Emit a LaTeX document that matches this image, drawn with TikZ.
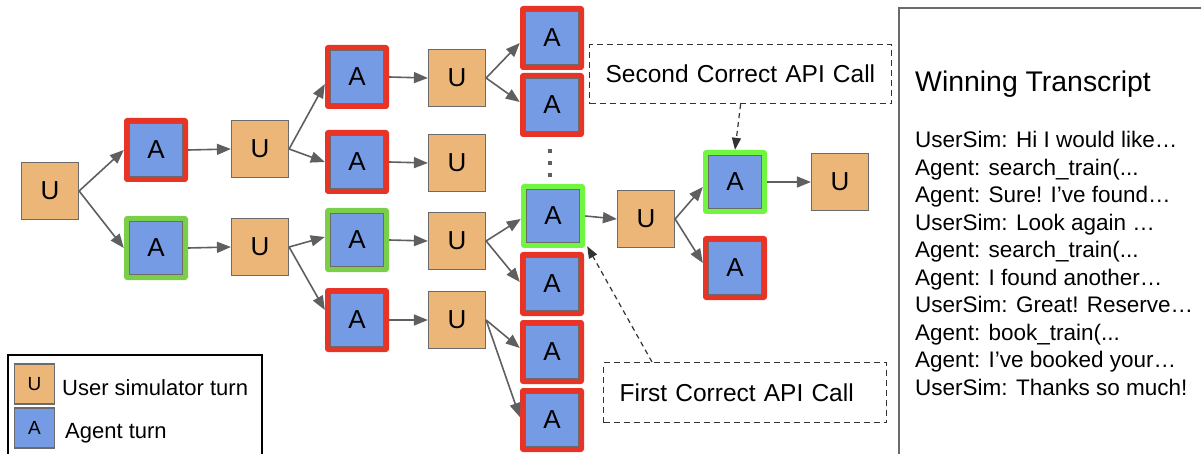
\documentclass[tikz,border=0pt]{standalone}
\usepackage{fontspec}
\setmainfont{Liberation Sans}
\usetikzlibrary{arrows.meta}
\definecolor{uorange}{RGB}{236,182,121}
\definecolor{ablue}{RGB}{117,155,228}
\definecolor{fred}{RGB}{232,52,38}
\definecolor{fgreenA}{RGB}{122,206,72}
\definecolor{fgreenB}{RGB}{112,246,64}
\definecolor{nodegray}{RGB}{107,107,107}
\definecolor{edgegray}{RGB}{95,95,95}
\definecolor{dashgray}{RGB}{51,51,51}
\begin{document}
\begin{tikzpicture}[x=1pt,y=-1pt,
  unode/.style={draw=nodegray, fill=uorange, line width=1.2pt, minimum size=57pt, inner sep=0pt, font=\fontsize{26}{26}\selectfont},
  anode/.style={fill=#1, rounded corners=3pt, minimum size=64pt, inner sep=0pt, font=\fontsize{26}{26}\selectfont,
    path picture={\draw[sharp corners, fill=ablue, draw=nodegray, line width=1.2pt]
      ([shift={(5.5pt,5.5pt)}]path picture bounding box.south west) rectangle
      ([shift={(-5.5pt,-5.5pt)}]path picture bounding box.north east);}},
  arr/.style={draw=edgegray, line width=1.6pt, -{Triangle[length=14pt,width=11pt]}},
  darr/.style={draw=dashgray, line width=1.2pt, dash pattern=on 5pt off 4pt, -{Triangle[length=12pt,width=9pt]}},
  callout/.style={draw=dashgray, line width=1.2pt, dash pattern=on 6pt off 4pt, inner xsep=16pt, inner ysep=0pt, align=left, font=\fontsize{24.5}{24.5}\selectfont},
  tline/.style={anchor=base west, inner sep=0pt, font=\fontsize{22.5}{22.5}\selectfont},
  legtext/.style={anchor=base west, inner sep=0pt, font=\fontsize{22}{22}\selectfont},
  legbox/.style={draw=nodegray, line width=1.2pt, minimum size=40pt, inner sep=0pt, font=\fontsize{19}{19}\selectfont}
]
\useasboundingbox (0,0) rectangle (1201,454);

% tree nodes
\node[unode] (U0) at (50,191) {U};
\node[anode=fred] (A1) at (156,150) {A};
\node[anode=fgreenA] (A2) at (156,248) {A};
\node[unode] (U1) at (260,149) {U};
\node[unode] (U2) at (260,247) {U};
\node[anode=fred] (A3a) at (357,77) {A};
\node[anode=fred] (A3b) at (357,162) {A};
\node[anode=fgreenA] (A3c) at (357,240) {A};
\node[anode=fred] (A3d) at (357,320) {A};
\node[unode] (U3a) at (457,78) {U};
\node[unode] (U3b) at (457,163) {U};
\node[unode] (U3c) at (457,241) {U};
\node[unode] (U3d) at (457,320) {U};
\node[anode=fred] (A4a) at (552,38) {A};
\node[anode=fred] (A4b) at (552,105) {A};
\node[anode=fgreenB] (A4c) at (553,216) {A};
\node[anode=fred] (A4d) at (552,284) {A};
\node[anode=fred] (A4e) at (552,352) {A};
\node[anode=fred] (A4f) at (552,420) {A};
\node[unode] (U5) at (646,219) {U};
\node[anode=fgreenB] (A6a) at (735,182) {A};
\node[anode=fred] (A6b) at (735,268) {A};
\node[unode] (U7) at (840,182) {U};

% vertical dots
\foreach \yy in {149,161,173} \fill[edgegray] (548,\yy) rectangle +(4,4);

% edges
\draw[arr] (U0.east) -- (A1.west);
\draw[arr] (U0.east) -- (A2.west);
\draw[arr] (A1.east) -- (U1.west);
\draw[arr] (A2.east) -- (U2.west);
\draw[arr] (U1.east) -- ([yshift=-7pt]A3a.west);
\draw[arr] (U1.east) -- (A3b.west);
\draw[arr] (U2.east) -- ([yshift=3pt]A3c.west);
\draw[arr] (U2.east) -- ([yshift=10pt]A3d.west);
\draw[arr] (A3a.east) -- (U3a.west);
\draw[arr] (A3b.east) -- (U3b.west);
\draw[arr] (A3c.east) -- (U3c.west);
\draw[arr] (A3d.east) -- (U3d.west);
\draw[arr] (U3a.east) -- ([yshift=-5pt]A4a.west);
\draw[arr] (U3a.east) -- ([yshift=3pt]A4b.west);
\draw[arr] (U3c.east) -- ([yshift=-3pt]A4c.west);
\draw[arr] (U3c.east) -- ([yshift=2pt]A4d.west);
\draw[arr] (U3d.east) -- ([yshift=4pt]A4e.west);
\draw[arr] (U3d.east) -- ([yshift=3pt]A4f.west);
\draw[arr] (A4c.east) -- (U5.west);
\draw[arr] (U5.east) -- ([yshift=-5pt]A6a.west);
\draw[arr] (U5.east) -- ([yshift=5pt]A6b.west);
\draw[arr] (A6a.east) -- (U7.west);

% callouts
\node[callout, text width=270pt, minimum height=59pt, anchor=north west] (sec) at (589,44) {Second Correct API Call};
\node[callout, text width=251pt, minimum height=60pt, anchor=north west] (fir) at (603,362) {First Correct API Call};
\draw[darr] (sec.south) -- (A6a.north);
\draw[darr] ([xshift=49pt]fir.north west) -- ([xshift=2pt,yshift=2pt]A4c.south east);

% transcript panel
\draw[line width=1.3pt, nodegray] (899,454) -- (899,8) -- (1201,8);
\node[anchor=base west, inner sep=0pt, font=\fontsize{28.4}{28.4}\selectfont] (title) at (915,92) {Winning Transcript};
\node[tline] (t1) at (915,148) {UserSim: Hi I would like…};
\node[tline] (t2) at (915,175.4) {Agent: search\_train(...};
\node[tline] (t3) at (915,202.9) {Agent: Sure! I’ve found…};
\node[tline] (t4) at (915,230.3) {UserSim: Look again …};
\node[tline] (t5) at (915,257.8) {Agent: search\_train(...};
\node[tline] (t6) at (915,285.2) {Agent: I found another…};
\node[tline] (t7) at (915,312.6) {UserSim: Great! Reserve…};
\node[tline] (t8) at (915,340.1) {Agent: book\_train(...};
\node[tline] (t9) at (915,367.5) {Agent: I’ve booked your…};
\node[tline] (t10) at (915,395) {UserSim: Thanks so much!};

% legend
\draw[line width=2.5pt, black] (8,460) -- (8,355) -- (262,355) -- (262,460);
\node[legbox, fill=uorange] (LU) at (34.5,384) {U};
\node[legbox, fill=ablue] (LA) at (34.5,428) {A};
\node[legtext] (LUt) at (62,395) {User simulator turn};
\node[legtext] (LAt) at (65,438) {Agent turn};
\end{tikzpicture}
\end{document}
